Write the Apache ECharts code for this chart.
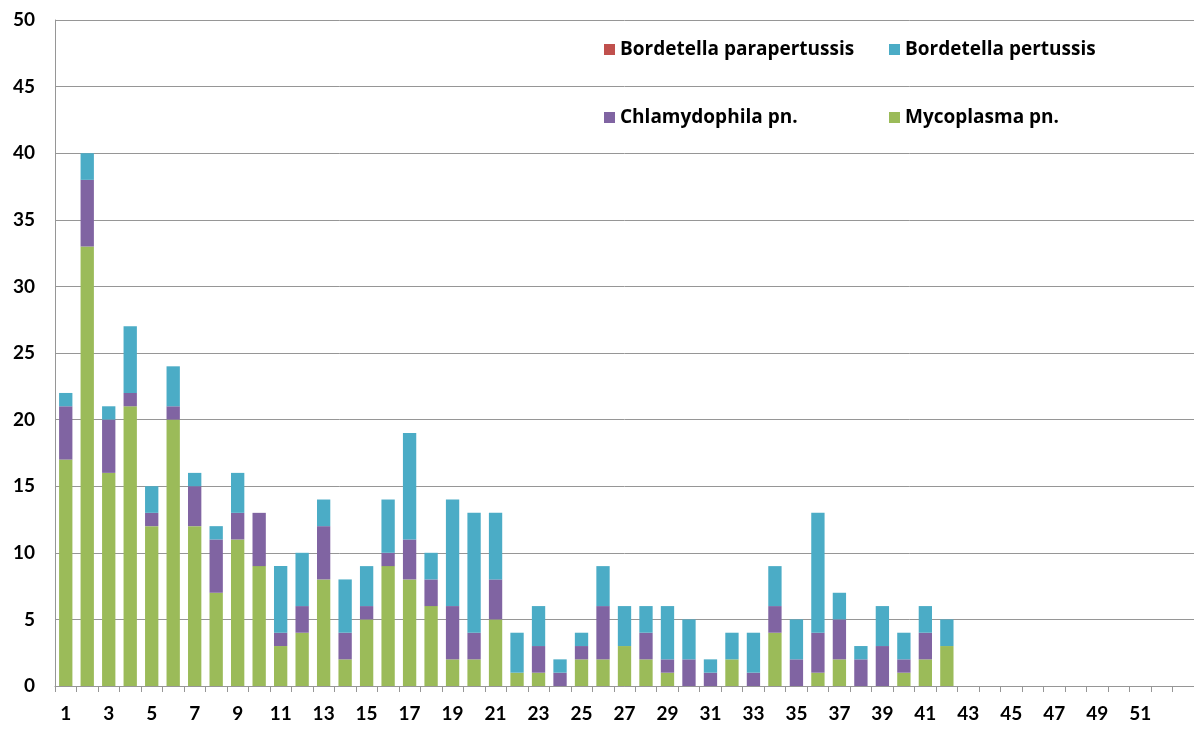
<!DOCTYPE html>
<html>
<head>
<meta charset="utf-8">
<script src="https://cdn.jsdelivr.net/npm/echarts@6/dist/echarts.min.js"></script>
<style>
  html, body { margin: 0; padding: 0; background: #fff; }
  #chart { width: 1194px; height: 729px; }
</style>
</head>
<body>
<div id="chart"></div>
<script>
// week numbers on the x axis
const weeks = ['1', '2', '3', '4', '5', '6', '7', '8', '9', '10',
  '11', '12', '13', '14', '15', '16', '17', '18', '19', '20',
  '21', '22', '23', '24', '25', '26', '27', '28', '29', '30',
  '31', '32', '33', '34', '35', '36', '37', '38', '39', '40',
  '41', '42', '43', '44', '45', '46', '47', '48', '49', '50',
  '51', '52', '53']

// cases per week, bottom of the stack first
const mycoplasma = [17, 33, 16, 21, 12, 20, 12, 7, 11, 9,
  3, 4, 8, 2, 5, 9, 8, 6, 2, 2,
  5, 1, 1, 0, 2, 2, 3, 2, 1, 0,
  0, 2, 0, 4, 0, 1, 2, 0, 0, 1,
  2, 3]
const chlamydophila = [4, 5, 4, 1, 1, 1, 3, 4, 2, 4,
  1, 2, 4, 2, 1, 1, 3, 2, 4, 2,
  3, 0, 2, 1, 1, 4, 0, 2, 1, 2,
  1, 0, 1, 2, 2, 3, 3, 2, 3, 1,
  2, 0]
const pertussis = [1, 2, 1, 5, 2, 3, 1, 1, 3, 0,
  5, 4, 2, 4, 3, 4, 8, 2, 8, 9,
  5, 3, 3, 1, 1, 3, 3, 2, 4, 3,
  1, 2, 3, 3, 3, 9, 2, 1, 3, 2,
  2, 2]
const parapertussis = [0, 0, 0, 0, 0, 0, 0, 0, 0, 0,
  0, 0, 0, 0, 0, 0, 0, 0, 0, 0,
  0, 0, 0, 0, 0, 0, 0, 0, 0, 0,
  0, 0, 0, 0, 0, 0, 0, 0, 0, 0,
  0, 0]

const font = 'Lato, "Liberation Sans", sans-serif'
const gray = '#969696'

function bar(name, data, color) {
  return {
    name,
    type: 'bar',
    stack: 'total',
    data,
    barWidth: '62%',
    itemStyle: { color },
    emphasis: { disabled: true }
  }
}

function legendAt(name, left, top) {
  return {
    data: [name],
    left,
    top,
    padding: 0,
    icon: 'rect',
    itemWidth: 11,
    itemHeight: 11,
    selectedMode: false,
    textStyle: { fontFamily: '"Open Sans", sans-serif', fontSize: 19, fontWeight: 'bold', color: '#000' }
  }
}

const chart = echarts.init(document.getElementById('chart'))
chart.setOption({
  animation: false,
  grid: { left: 55, right: 0, top: 20, bottom: 43 },
  legend: [
    legendAt('Bordetella parapertussis', 604, 40),
    legendAt('Bordetella pertussis', 889, 40),
    legendAt('Chlamydophila pn.', 604, 108),
    legendAt('Mycoplasma pn.', 889, 108)
  ],
  xAxis: {
    type: 'category',
    data: weeks,
    axisLine: { lineStyle: { color: gray } },
    axisTick: { show: true, interval: 0, length: 6, lineStyle: { color: gray } },
    axisLabel: {
      interval: (i) => i % 2 === 0 && i < 52,
      margin: 18,
      fontFamily: font,
      fontSize: 19,
      fontWeight: 'bold',
      color: '#000'
    }
  },
  yAxis: {
    type: 'value',
    min: 0,
    max: 50,
    interval: 5,
    axisLine: { show: true, lineStyle: { color: gray } },
    axisTick: { show: false },
    axisLabel: { margin: 20, fontFamily: font, fontSize: 19, fontWeight: 'bold', color: '#000' },
    splitLine: { lineStyle: { color: gray, width: 1 } }
  },
  series: [
    bar('Mycoplasma pn.', mycoplasma, '#9BBB59'),
    bar('Chlamydophila pn.', chlamydophila, '#8064A2'),
    bar('Bordetella pertussis', pertussis, '#4BACC6'),
    bar('Bordetella parapertussis', parapertussis, '#C0504D')
  ]
})

window.addEventListener('resize', () => chart.resize())
</script>
</body>
</html>
